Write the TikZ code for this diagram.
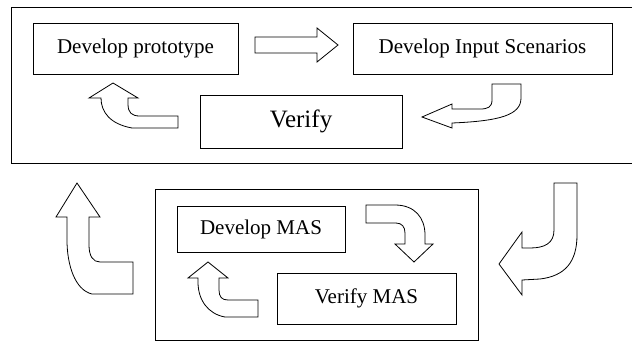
\documentclass[tikz,border=0pt]{standalone}
\usepackage{fontspec}
\setmainfont{Liberation Serif}
\begin{document}
\begin{tikzpicture}[x=1pt,y=-1pt,
  box/.style={draw, line width=0.9pt, rectangle, inner sep=0pt, font=\fontsize{21}{24}\selectfont},
  frame/.style={draw, line width=1pt},
  blockarrow/.style={draw, line width=0.8pt, fill=white, line join=miter}]
\clip (0,0) rectangle (632,341);
% outer frames
\draw[frame] (11,7) rectangle (640,163);
\draw[frame] (155,189) rectangle (478,340);
% boxes
\node[box, minimum width=205pt, minimum height=51pt] (proto) at (135.5,48.5) {Develop prototype};
\node[box, minimum width=259pt, minimum height=51pt] (scen) at (482.5,48.5) {Develop Input Scenarios};
\node[box, minimum width=202pt, minimum height=53pt, font=\fontsize{25}{28}\selectfont] (ver) at (301,121.5) {Verify};
\node[box, minimum width=168pt, minimum height=46pt] (mas) at (261,229) {Develop MAS};
\node[box, minimum width=179pt, minimum height=51pt] (vmas) at (366.5,298.5) {Verify MAS};
% straight right arrow
\draw[blockarrow] (255,37) -- (317,37) -- (317,28) -- (338,45) -- (317,62) -- (317,53) -- (255,53) -- cycle;
% top right curved arrow (pointing left)
\draw[blockarrow] (492,84) -- (492,100) .. controls (492,107) and (488,109) .. (480,109) -- (452,109) -- (452,104) -- (422,117) -- (452,128) -- (452,123) .. controls (500,121) and (521,115) .. (521,98) -- (521,84) -- cycle;
% top left curved arrow (pointing up)
\draw[blockarrow] (113,83) -- (138,98) -- (128,98) -- (128,104) .. controls (128,113) and (132,116) .. (140,116) -- (178,116) -- (178,128) -- (132,128) .. controls (110,124) and (101,112) .. (101,98) -- (89,98) -- cycle;
% bottom left big arrow (pointing up)
\draw[blockarrow] (77,183) -- (100,217) -- (89,217) -- (89,245) .. controls (89,256) and (93,262) .. (100,262) -- (133,262) -- (133,294) -- (92,294) .. controls (75,290) and (67,265) .. (67,240) -- (67,217) -- (56,217) -- cycle;
% bottom right big arrow (pointing left)
\draw[blockarrow] (554,183) -- (554,230) .. controls (554,243) and (545,248) .. (530,248) -- (522,248) -- (522,232) -- (499,264) -- (522,295) -- (522,280) -- (540,279) .. controls (565,276) and (577,262) .. (577,235) -- (577,183) -- cycle;
% small down arrow
\draw[blockarrow] (366,205) -- (395,205) .. controls (415,205) and (425,218) .. (425,235) -- (425,244) -- (433,244) -- (414,262) -- (395,244) -- (405,244) -- (405,233) .. controls (405,227) and (402,223) .. (396,223) -- (366,223) -- cycle;
% small up arrow
\draw[blockarrow] (208,262) -- (228,278) -- (219,278) -- (219,290) .. controls (219,297) and (222,300) .. (228,300) -- (258,300) -- (258,317) -- (225,317) .. controls (208,314) and (198,300) .. (198,282) -- (198,278) -- (188,278) -- cycle;
\end{tikzpicture}
\end{document}
